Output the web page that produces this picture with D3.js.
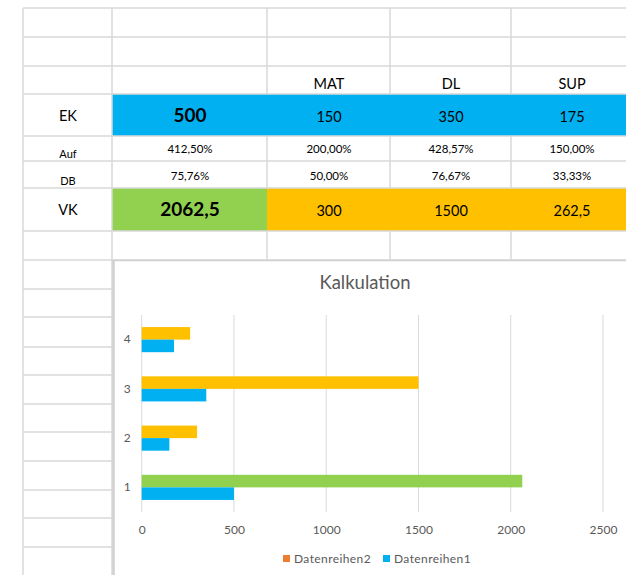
<!DOCTYPE html>
<html>
<head>
<meta charset="utf-8">
<script src="https://d3js.org/d3.v7.min.js"></script>
<style>
  body { margin: 0; background: #fff; }
  svg { display: block; font-family: Lato, "Open Sans", sans-serif; }
</style>
</head>
<body>
<svg width="626" height="575"></svg>
<script>
// table values
var colHeads = ["", "MAT", "DL", "SUP"];
var rowLabels = ["EK", "Auf", "DB", "VK"];
var ekValues = [500, 150, 350, 175];
var aufValues = ["412,50%", "200,00%", "428,57%", "150,00%"];
var dbValues = ["75,76%", "50,00%", "76,67%", "33,33%"];
var vkValues = [2062.5, 300, 1500, 262.5];

// chart values
var categories = ["1", "2", "3", "4"];
var series1 = ekValues;          // Datenreihen1
var series2 = vkValues;          // Datenreihen2
var seriesNames = ["Datenreihen2", "Datenreihen1"];
var xTicks = [0, 500, 1000, 1500, 2000, 2500];

var blue = "#00B0F0", green = "#92D050", yellow = "#FFC000", orange = "#ED7D31";
var grid = "#d9d9d9";
var fmt = function (v) { return String(v).replace(".", ","); };

var svg = d3.select("svg");

// ---- spreadsheet grid ----
var rowEdges = [8, 37, 66, 94, 136, 161, 188, 231, 260];
var lowRows = [289, 317, 347, 375, 404, 432, 461, 490, 518, 547];

// coloured rows
svg.append("rect").attr("x", 112).attr("y", 94).attr("width", 530).attr("height", 42).attr("fill", blue);
svg.append("rect").attr("x", 112).attr("y", 188).attr("width", 155).attr("height", 43).attr("fill", green);
svg.append("rect").attr("x", 267).attr("y", 188).attr("width", 375).attr("height", 43).attr("fill", yellow);

var gridG = svg.append("g").attr("stroke", grid).attr("stroke-width", 1.5);
rowEdges.forEach(function (y) {
  gridG.append("line").attr("x1", 23).attr("x2", 626).attr("y1", y).attr("y2", y);
});
lowRows.forEach(function (y) {
  gridG.append("line").attr("x1", 23).attr("x2", 112).attr("y1", y).attr("y2", y);
});
gridG.append("line").attr("x1", 23).attr("x2", 23).attr("y1", 8).attr("y2", 575);
gridG.append("line").attr("x1", 112).attr("x2", 112).attr("y1", 8).attr("y2", 575);
[267, 390, 511].forEach(function (x) {
  [[8, 94], [136, 188], [231, 260]].forEach(function (s) {
    gridG.append("line").attr("x1", x).attr("x2", x).attr("y1", s[0]).attr("y2", s[1]);
  });
});

var colC = [190, 329, 451, 572];

// headers
svg.append("g").selectAll("text").data(colHeads).enter().append("text")
  .attr("x", function (d, i) { return colC[i]; })
  .attr("y", 89).attr("text-anchor", "middle")
  .attr("font-size", 14.5).attr("fill", "#000")
  .text(function (d) { return d; });

// row labels
var labelY = [121, 158, 185, 215];
svg.append("g").selectAll("text").data(rowLabels).enter().append("text")
  .attr("x", 68).attr("y", function (d, i) { return labelY[i]; })
  .attr("text-anchor", "middle")
  .attr("font-size", function (d, i) { return (i === 1 || i === 2) ? 11 : 14.5; })
  .text(function (d) { return d; });

function rowText(values, y, size, firstBold) {
  svg.append("g").selectAll("text").data(values).enter().append("text")
    .attr("x", function (d, i) { return colC[i]; })
    .attr("y", y).attr("text-anchor", "middle")
    .attr("font-size", function (d, i) { return (firstBold && i === 0) ? 19 : size; })
    .attr("font-weight", function (d, i) { return (firstBold && i === 0) ? "bold" : "normal"; })
    .text(function (d) { return fmt(d); });
}
rowText(ekValues, 122, 14.5, true);
rowText(aufValues, 153, 11.5, false);
rowText(dbValues, 180, 11.5, false);
rowText(vkValues, 216, 14.5, true);

// ---- chart ----
var chart = svg.append("g");
chart.append("rect").attr("x", 113).attr("y", 260).attr("width", 520).attr("height", 320).attr("fill", "#fff");
chart.append("line").attr("x1", 113).attr("x2", 626).attr("y1", 260.5).attr("y2", 260.5)
  .attr("stroke", "#d0d0d0").attr("stroke-width", 1.5);
chart.append("line").attr("x1", 113.5).attr("x2", 113.5).attr("y1", 260).attr("y2", 575)
  .attr("stroke", "#d0d0d0").attr("stroke-width", 2.5);

chart.append("text").attr("x", 365).attr("y", 289).attr("text-anchor", "middle")
  .attr("font-size", 18.5).attr("fill", "#595959").text("Kalkulation");

var xScale = d3.scaleLinear().domain([0, 2500]).range([141.7, 603]);
var yScale = d3.scaleBand().domain(categories.slice().reverse()).range([315, 512])
  .paddingInner(0.49).paddingOuter(0.245);
var sub = d3.scaleBand().domain(["s2", "s1"]).range([0, yScale.bandwidth()]);

// gridlines
chart.append("g").selectAll("line").data(xTicks).enter().append("line")
  .attr("x1", function (d) { return xScale(d); }).attr("x2", function (d) { return xScale(d); })
  .attr("y1", 315).attr("y2", 512)
  .attr("stroke", grid).attr("stroke-width", 1);

// x axis labels
var xAxis = chart.append("g").attr("transform", "translate(0,512)")
  .call(d3.axisBottom(xScale).tickValues(xTicks).tickFormat(d3.format("d")).tickSize(0).tickPadding(13));
xAxis.select(".domain").remove();
xAxis.selectAll("text").attr("font-size", 12).attr("fill", "#595959").attr("font-family", "Lato");

// y axis labels
var yAxis = chart.append("g").attr("transform", "translate(141.7,0)")
  .call(d3.axisLeft(yScale).tickSize(0).tickPadding(11));
yAxis.select(".domain").remove();
yAxis.selectAll("text").attr("font-size", 12).attr("fill", "#595959").attr("font-family", "Lato");

var pointColors2 = categories.map(function (c, i) { return i === 0 ? green : yellow; });

chart.append("g").selectAll("rect").data(series2).enter().append("rect")
  .attr("x", xScale(0))
  .attr("y", function (d, i) { return yScale(categories[i]) + sub("s2"); })
  .attr("width", function (d) { return xScale(d) - xScale(0); })
  .attr("height", sub.bandwidth())
  .attr("fill", function (d, i) { return pointColors2[i]; });

chart.append("g").selectAll("rect").data(series1).enter().append("rect")
  .attr("x", xScale(0))
  .attr("y", function (d, i) { return yScale(categories[i]) + sub("s1"); })
  .attr("width", function (d) { return xScale(d) - xScale(0); })
  .attr("height", sub.bandwidth())
  .attr("fill", blue);

// legend
var legendColors = [orange, blue];
var legendX = [283, 383];
var legend = chart.selectAll(".lg").data(seriesNames).enter().append("g")
  .attr("class", "lg")
  .attr("transform", function (d, i) { return "translate(" + legendX[i] + ",555)"; });
legend.append("rect").attr("width", 7).attr("height", 7)
  .attr("fill", function (d, i) { return legendColors[i]; });
legend.append("text").attr("x", 11).attr("y", 7.5)
  .attr("font-size", 12).attr("fill", "#595959").attr("letter-spacing", 0.4)
  .text(function (d) { return d; });
</script>
</body>
</html>
